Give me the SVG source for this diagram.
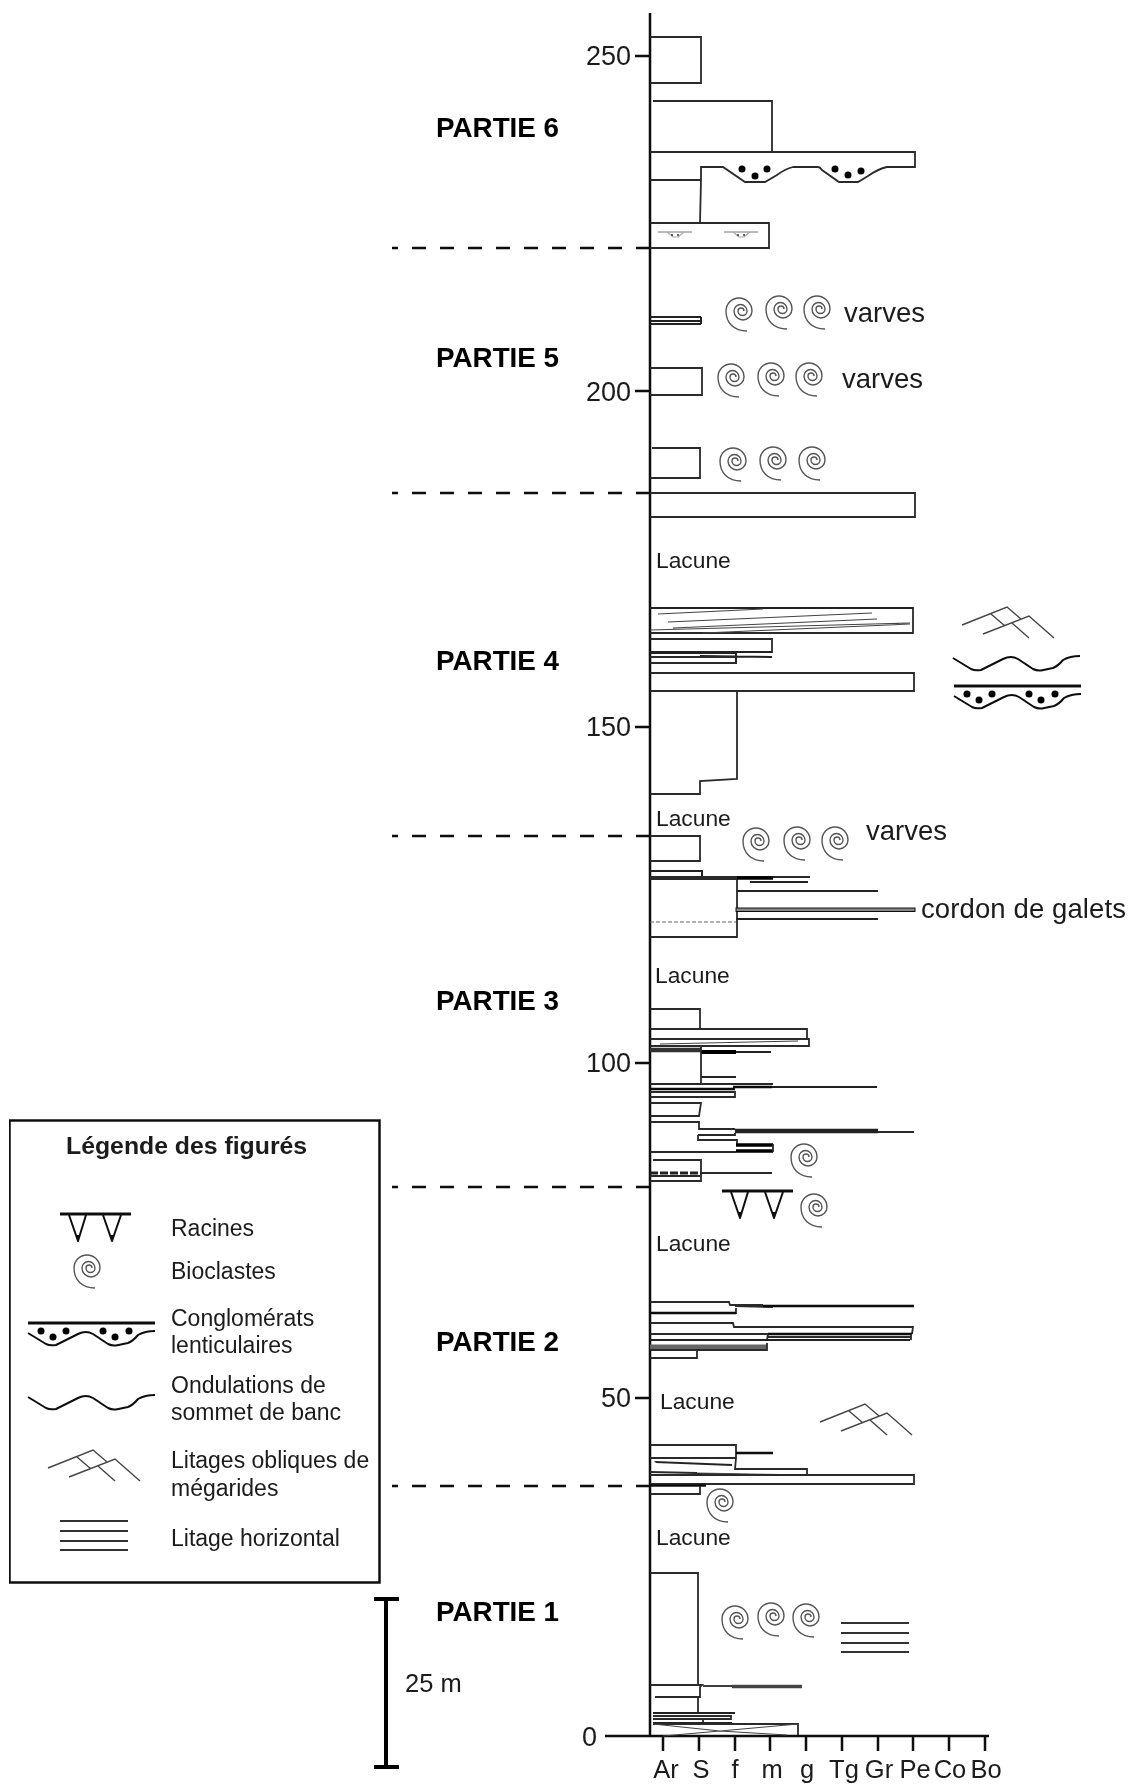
<svg xmlns="http://www.w3.org/2000/svg" xmlns:xlink="http://www.w3.org/1999/xlink" width="1133" height="1784" viewBox="0 0 1133 1784">
<style>
text{font-family:"Liberation Sans",Arial,sans-serif;fill:#1a1a1a}
.part{font-size:27.800px;font-weight:bold;fill:#000}
.num{font-size:27px;text-anchor:end}
.gr{font-size:25.500px;text-anchor:middle}
.lac{font-size:22.800px}
.var{font-size:27.500px}
.leg{font-size:23px}
.b{fill:none;stroke:#2a2a2a;stroke-width:1.8}
.t{fill:none;stroke:#111;stroke-width:2.5}
.m{fill:none;stroke:#222;stroke-width:2}
.f{fill:none;stroke:#444;stroke-width:1.1}
.ax{fill:none;stroke:#111;stroke-width:2.5}
.dash{fill:none;stroke:#111;stroke-width:2.6;stroke-dasharray:14 14}
.spiral{fill:none;stroke:#555;stroke-width:1.4}
.wave{fill:none;stroke:#111;stroke-width:2;stroke-linejoin:round}
.lit{fill:none;stroke:#444;stroke-width:1.4}
.hz{fill:none;stroke:#333;stroke-width:1.8}
</style>
<defs>
<filter id="soft" x="0" y="0" width="100%" height="100%"><feGaussianBlur stdDeviation="0.35"/></filter>
<path id="spi" class="spiral" d="M2 1A3 3 0 0 0-4 1A4.5 4.5 0 0 0 5 1A6.500 6.500 0 0 0-8 1A9 9 0 0 0 10 1A13 13 0 0 0-16 1C-16 13-8 21 5 21"/>
<path id="ond" class="wave" d="M28 1397L46 1408Q50 1410 56 1409L78 1398Q86 1394 93 1398L108 1408Q112 1410 116 1409.500L128 1407Q133 1405 138 1399Q145 1395 155 1395"/>
<g id="cgl">
<path d="M28 1323H155" fill="none" stroke="#111" stroke-width="3"/>
<path class="wave" transform="translate(0 -64)" d="M28 1397L46 1408Q50 1410 56 1409L78 1398Q86 1394 93 1398L108 1408Q112 1410 116 1409.500L128 1407Q133 1405 138 1399Q145 1395 155 1395"/>
<circle cx="41" cy="1331" r="3.500" fill="#000"/><circle cx="53" cy="1337" r="3.500" fill="#000"/><circle cx="66" cy="1331" r="3.500" fill="#000"/><circle cx="103" cy="1331" r="3.500" fill="#000"/><circle cx="115" cy="1337" r="3.500" fill="#000"/><circle cx="129" cy="1331" r="3.500" fill="#000"/>
</g>
<path id="lit" class="lit" d="M0 0L45-18L59-6M21 9L67-9L92 13M29-11L43 1M50-2L67 13"/>
<g id="rac">
<path d="M0 0H71" fill="none" stroke="#111" stroke-width="3"/>
<path d="M9 1L18 27L26 1M43 1L52 27L61 1" fill="none" stroke="#111" stroke-width="2" stroke-linejoin="round"/>
<path d="M16.500 21L18 28L19.500 21ZM50.500 21L52 28L53.500 21Z" fill="#111"/>
</g>
<g id="hor"><path class="hz" d="M0 0H68M0 10H68M0 20H68M0 29H68"/></g>
<g id="mini">
<path d="M0 0H34" stroke="#777" stroke-width="1" fill="none"/>
<path d="M9 0L15 5H20L26 0" stroke="#aaa" stroke-width="1.200" fill="none"/>
<circle cx="14" cy="3" r="1" fill="#333"/><circle cx="20" cy="3" r="1" fill="#333"/>
</g>
</defs>
<rect width="1133" height="1784" fill="#fff"/>
<g filter="url(#soft)">
<g id="axes">
<path class="ax" d="M650 13V1737M605 1736H989"/>
<path class="ax" d="M635 56H650M635 391H650M635 727H650M635 1063H650M635 1398H650"/>
<path class="ax" d="M663 1736V1751M699 1736V1751M735 1736V1751M770 1736V1751M806 1736V1751M842 1736V1751M878 1736V1751M913 1736V1751M949 1736V1751M985 1736V1751"/>
<text class="num" x="631" y="65">250</text><text class="num" x="631" y="401">200</text><text class="num" x="631" y="736">150</text><text class="num" x="631" y="1072">100</text><text class="num" x="631" y="1407">50</text><text class="num" x="597" y="1746">0</text>
<text class="gr" x="666" y="1778">Ar</text><text class="gr" x="701" y="1778">S</text><text class="gr" x="735" y="1778">f</text><text class="gr" x="772" y="1778">m</text><text class="gr" x="807" y="1778">g</text><text class="gr" x="844" y="1778">Tg</text><text class="gr" x="879" y="1778">Gr</text><text class="gr" x="915" y="1778">Pe</text><text class="gr" x="950" y="1778">Co</text><text class="gr" x="986" y="1778">Bo</text>
</g>

<g id="limits">
<path class="dash" d="M650 248H392"/><path class="dash" d="M650 493H392"/><path class="dash" d="M650 836H392"/><path class="dash" d="M650 1187H392"/><path class="dash" d="M650 1486H392"/>
</g>

<g id="parties">
<text class="part" x="436" y="137">PARTIE 6</text>
<text class="part" x="436" y="367">PARTIE 5</text>
<text class="part" x="436" y="670">PARTIE 4</text>
<text class="part" x="436" y="1010">PARTIE 3</text>
<text class="part" x="436" y="1351">PARTIE 2</text>
<text class="part" x="436" y="1621">PARTIE 1</text>
</g>

<g id="log-top">
<path class="b" d="M650 37H701V83H650"/>
<path class="b" d="M653 101H772V152"/>
<path class="b" d="M650 152H915V167H887Q878 169 868 176L858 182H839L822 170Q820 167 818 167H793Q785 169 777 175L765 182H745L723 167H701V180H650M701 180L700 223"/>
<circle cx="742" cy="169" r="3.500" fill="#000"/><circle cx="755" cy="176" r="3.500" fill="#000"/><circle cx="767" cy="169" r="3.500" fill="#000"/><circle cx="835" cy="169" r="3.500" fill="#000"/><circle cx="848" cy="175" r="3.500" fill="#000"/><circle cx="861" cy="171" r="3.500" fill="#000"/>
<path class="b" d="M650 223H769V248H650"/>
<use xlink:href="#mini" href="#mini" x="658" y="232"/><use xlink:href="#mini" href="#mini" x="724" y="232"/>
<path class="m" d="M650 317H701M650 321H701M650 324H701M701 317V324" stroke-width="1.800"/>
<path class="b" d="M650 368H702V395H650"/>
<path class="b" d="M652 448H700V478H650"/>
<path class="b" d="M650 493H915V517H650"/>
<path class="b" d="M650 608H913V633H650" />
<path d="M650 608H913" class="m"/>
<path class="f" d="M658 614L763 609M668 622L872 613M650 630L910 623M673 628L877 619M703 633L910 624"/>
<path class="b" d="M650 639H772V652H650"/>
<path class="m" d="M650 652H772M650 653H736V663M700 656L772 657"/>
<path class="b" d="M650 657H736M650 663H737"/>
<path class="b" d="M650 673H914V691H650"/>
<path class="b" d="M737 691V779L700 781V794H650"/>
<path class="b" d="M650 836H700V861H650"/>
<path class="m" d="M650 871H702V876M750 882H808"/>
<path class="b" d="M650 877H810"/>
<path class="b" d="M650 879H737V937H650"/>
<path d="M737 878H773" fill="none" stroke="#000" stroke-width="3.500"/>
<path class="m" d="M737 891H878M736 919H878"/>
<rect x="736" y="908" width="179" height="3.500" fill="#888" stroke="#111" stroke-width="1"/>
<path d="M650 922H736" fill="none" stroke="#666" stroke-width="1.200" stroke-dasharray="4 2"/>
</g>

<g id="log-mid">
<path class="b" d="M650 1009H700V1029"/>
<path class="b" d="M650 1029H807V1039H650"/>
<path class="b" d="M650 1039H809V1046H650"/>
<path class="f" d="M660 1044L798 1041"/>
<path d="M650 1050H701" stroke="#333" stroke-width="4.500" fill="none"/>
<path d="M701 1052H736" stroke="#000" stroke-width="4" fill="none"/>
<path class="m" d="M736 1052H771M701 1077H736"/>
<path class="b" d="M701 1046V1084H650"/>
<path class="b" d="M701 1084H773"/>
<path class="t" d="M650 1089H735" stroke-width="3"/>
<path class="t" d="M733 1087H772" stroke-width="3.500"/>
<path class="m" d="M772 1087H877"/>
<path class="b" d="M650 1092H735V1097H650"/>
<path class="b" d="M650 1103H701L699 1116H650"/>
<path class="b" d="M650 1122H699V1129H735M698 1135H735V1133M698 1135V1140H737V1144M878 1132H914"/>
<path d="M735 1131H878" stroke="#222" stroke-width="4.500" fill="none"/>
<path d="M736 1145H773M736 1151H773" stroke="#000" stroke-width="3.500" fill="none"/>
<path class="b" d="M773 1144V1152M650 1152H736"/>
<path class="b" d="M653 1160H701V1181H650"/>
<path d="M650 1173H701" stroke="#222" stroke-width="3" stroke-dasharray="8 2" fill="none"/>
<path class="b" d="M701 1173H772M650 1176H700"/>
<use xlink:href="#rac" href="#rac" x="722" y="1191"/>
<path class="b" d="M650 1302H729L730 1305H763M650 1313H736V1308M735 1306L773 1307" />
<path class="t" d="M763 1306H914M650 1313H736"/>
<path class="b" d="M650 1323H733L734 1327H913L912 1334M650 1334H768L767 1340"/>
<path class="t" d="M768 1334H912"/>
<path class="b" d="M768 1337H911M911 1334V1340"/>
<path class="m" d="M650 1340H910"/>
<path d="M650 1347H767" stroke="#666" stroke-width="5" fill="none"/>
<path class="b" d="M767 1343V1350L650 1350M697 1351V1358H650"/>
<path class="b" d="M650 1445H736V1458H650M736 1458L735 1469H807V1475"/>
<path class="t" d="M736 1453H773"/>
<path d="M654 1461L732 1464L732 1466L656 1463Z" fill="#222"/>
<path class="b" d="M650 1472L697 1473"/>
<path d="M697 1473L807 1475L697 1474.500Z" fill="#222" stroke="#333" stroke-width=".8"/>
<path class="b" d="M650 1475H914V1484H650"/>
<path class="t" d="M650 1485.500H706"/>
<path class="b" d="M700 1486V1494H650"/>
</g>

<g id="log-base">
<path class="b" d="M650 1573H698V1684M650 1685H702L700 1687V1697H655M698 1697V1712"/>
<path class="b" d="M703 1686H732"/>
<path d="M732 1686.500H802" fill="none" stroke="#444" stroke-width="3.500"/>
<path class="m" d="M653 1713H735"/>
<path class="b" d="M653 1716H731V1719H653M703 1719V1723"/>
<path class="m" d="M653 1723H732"/>
<path class="b" d="M653 1724H798V1735"/>
<path class="f" d="M653 1724L720 1731L787 1735M798 1724L720 1731L663 1736"/>
</g>

<g id="symbols">
<use xlink:href="#spi" href="#spi" x="742" y="310"/><use xlink:href="#spi" href="#spi" x="782" y="308"/><use xlink:href="#spi" href="#spi" x="820" y="308"/>
<use xlink:href="#spi" href="#spi" x="734" y="376"/><use xlink:href="#spi" href="#spi" x="774" y="375"/><use xlink:href="#spi" href="#spi" x="812" y="375"/>
<use xlink:href="#spi" href="#spi" x="736" y="460"/><use xlink:href="#spi" href="#spi" x="776" y="459"/><use xlink:href="#spi" href="#spi" x="815" y="459"/>
<use xlink:href="#spi" href="#spi" x="759" y="840"/><use xlink:href="#spi" href="#spi" x="800" y="839"/><use xlink:href="#spi" href="#spi" x="838" y="839"/>
<use xlink:href="#spi" href="#spi" x="807" y="1156"/><use xlink:href="#spi" href="#spi" x="817" y="1206"/>
<use xlink:href="#spi" href="#spi" x="723" y="1501"/>
<use xlink:href="#spi" href="#spi" x="738" y="1618"/><use xlink:href="#spi" href="#spi" x="774" y="1615"/><use xlink:href="#spi" href="#spi" x="809" y="1616"/>
<use xlink:href="#lit" href="#lit" x="962" y="625"/>
<use xlink:href="#lit" href="#lit" x="820" y="1422"/>
<use xlink:href="#ond" href="#ond" x="925" y="-739"/>
<use xlink:href="#cgl" href="#cgl" x="926" y="-637"/>
<use xlink:href="#hor" href="#hor" x="841" y="1623"/>
</g>

<g id="labels">
<text class="var" x="844" y="322">varves</text>
<text class="var" x="842" y="388">varves</text>
<text class="var" x="866" y="840">varves</text>
<text class="var" x="921" y="918" textLength="205">cordon de galets</text>
<text class="lac" x="656" y="568">Lacune</text>
<text class="lac" x="656" y="826">Lacune</text>
<text class="lac" x="655" y="983">Lacune</text>
<text class="lac" x="656" y="1251">Lacune</text>
<text class="lac" x="660" y="1409">Lacune</text>
<text class="lac" x="656" y="1545">Lacune</text>
</g>

<g id="scale">
<path d="M386 1599V1767M374 1599H399M374 1767H399" fill="none" stroke="#000" stroke-width="4"/>
<text x="405" y="1692" font-size="25.500">25 m</text>
</g>

<g id="legend">
<rect x="9.500" y="1120.500" width="370" height="462" fill="#fff" stroke="#111" stroke-width="2.500"/>
<text x="66" y="1154" font-size="24.800" font-weight="bold" fill="#000">Légende des figurés</text>
<use xlink:href="#rac" href="#rac" x="60" y="1214"/>
<text class="leg" x="171" y="1236">Racines</text>
<use xlink:href="#spi" href="#spi" x="90" y="1267"/>
<text class="leg" x="171" y="1279">Bioclastes</text>
<use xlink:href="#cgl" href="#cgl"/>
<text class="leg" x="171" y="1326">Conglomérats</text>
<text class="leg" x="171" y="1353">lenticulaires</text>
<use xlink:href="#ond" href="#ond"/>
<text class="leg" x="171" y="1393">Ondulations de</text>
<text class="leg" x="171" y="1420">sommet de banc</text>
<use xlink:href="#lit" href="#lit" x="48" y="1468"/>
<text class="leg" x="171" y="1468">Litages obliques de</text>
<text class="leg" x="171" y="1496">mégarides</text>
<use xlink:href="#hor" href="#hor" x="60" y="1521"/>
<text class="leg" x="171" y="1546">Litage horizontal</text>
</g>
</g>
</svg>
